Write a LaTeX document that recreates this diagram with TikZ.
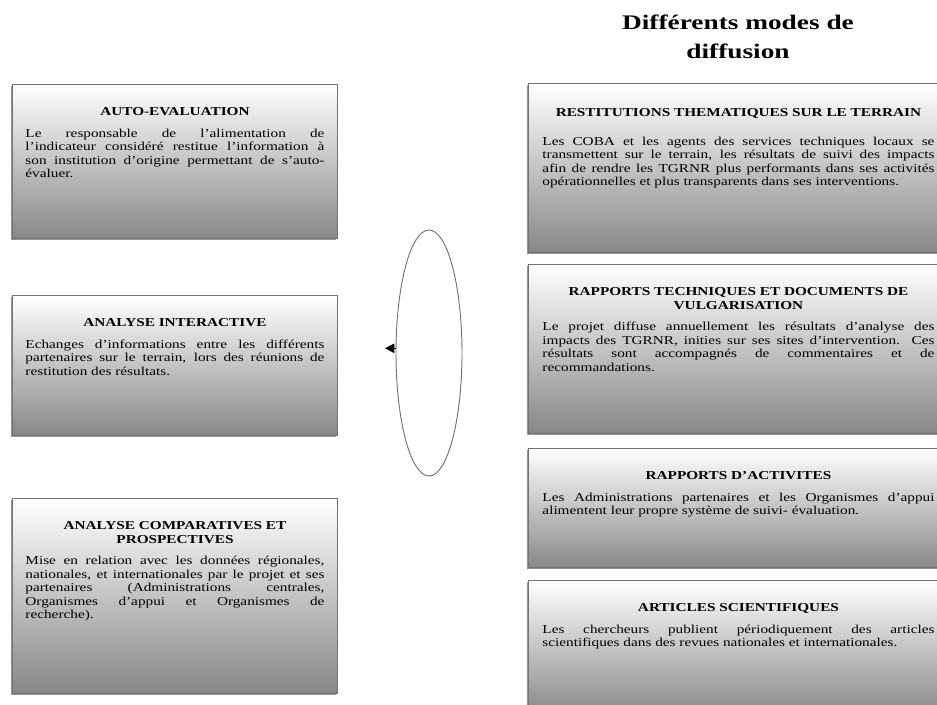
\documentclass[tikz,border=0pt]{standalone}
\usepackage{fontspec}
\setmainfont{Liberation Serif}
\newfontfamily\modefont[FakeStretch=1.26]{Liberation Serif}
\newfontfamily\headfont[FakeStretch=1.32]{Liberation Serif}
\usetikzlibrary{positioning, shapes.geometric, arrows.meta, shadows}

\newlength\pix
\setlength\pix{0.85pt}
\newcommand{\modetitle}[1]{{\centering\bfseries #1\par}\vspace{7pt}}

\tikzset{
  modebox/.style={rectangle, draw=black!55, line width=0.8pt, inner sep=0pt, anchor=north west,
    top color=white, bottom color=black!47,
    drop shadow={shadow xshift=-1.2pt, shadow yshift=-1.5pt, fill=black!70, opacity=0.6}},
  modetext/.style={anchor=north, inner sep=0pt, align=justify,
    font=\modefont\fontsize{10.3}{11.4}\selectfont},
}

\begin{document}
\begin{tikzpicture}[x=0.85pt, y=-0.85pt]
  \useasboundingbox (0,0) rectangle (937,704);
  \clip (0,0) rectangle (937,704);

  % Heading
  \node[font=\headfont\bfseries\fontsize{17.6}{24.7}\selectfont, align=center] (heading) at (738,37)
    {Différents modes de\\diffusion};

  % Boxes
  \foreach \name/\x/\y/\w/\h in {autoeval/12/84/325/154, interactive/12/295/325/140,
      comparative/12/498/325/195, restitution/528/83/420/169, techreport/528/264/420/169,
      activity/528/448/420/119, articles/528/580/420/135}
    \node[modebox, minimum width=\w*\pix, minimum height=\h*\pix] (\name) at (\x,\y) {};

  % Left texts
  \node[modetext, text width=299*\pix, below=20pt of autoeval.north] (autoevaltxt) {%
    \modetitle{AUTO-EVALUATION}
    Le responsable de l’alimentation de\linebreak
    l’indicateur considéré restitue l’information à\linebreak
    son institution d’origine permettant de s’auto-\linebreak
    évaluer.};
  \node[modetext, text width=299*\pix, below=20pt of interactive.north] (interactivetxt) {%
    \modetitle{ANALYSE INTERACTIVE}
    Echanges d’informations entre les différents\linebreak
    partenaires sur le terrain, lors des réunions de\linebreak
    restitution des résultats.};
  \node[modetext, text width=299*\pix, below=20pt of comparative.north] (comparativetxt) {%
    \modetitle{ANALYSE COMPARATIVES ET\\PROSPECTIVES}
    Mise en relation avec les données régionales,\linebreak
    nationales, et internationales par le projet et ses\linebreak
    partenaires (Administrations centrales,\linebreak
    Organismes d’appui et Organismes de\linebreak
    recherche).};

  % Right texts
  \node[modetext, text width=392*\pix, below=21.6pt of restitution.north] (restitutiontxt) {%
    \modetitle{RESTITUTIONS THEMATIQUES SUR LE TERRAIN}\vspace{6pt}
    Les COBA et les agents des services techniques locaux se\linebreak
    transmettent sur le terrain, les résultats de suivi des impacts\linebreak
    afin de rendre les TGRNR plus performants dans ses activités\linebreak
    opérationnelles et plus transparents dans ses interventions.};
  \node[modetext, text width=392*\pix, below=20pt of techreport.north] (techreporttxt) {%
    \modetitle{RAPPORTS TECHNIQUES ET DOCUMENTS DE\\VULGARISATION}
    Le projet diffuse annuellement les résultats d’analyse des\linebreak
    impacts des TGRNR, inities sur ses sites d’intervention. Ces\linebreak
    résultats sont accompagnés de commentaires et de\linebreak
    recommandations.};
  \node[modetext, text width=392*\pix, below=20pt of activity.north] (activitytxt) {%
    \modetitle{RAPPORTS D’ACTIVITES}
    Les Administrations partenaires et les Organismes d’appui\linebreak
    alimentent leur propre système de suivi- évaluation.};
  \node[modetext, text width=392*\pix, below=20pt of articles.north] (articlestxt) {%
    \modetitle{ARTICLES SCIENTIFIQUES}
    Les chercheurs publient périodiquement des articles\linebreak
    scientifiques dans des revues nationales et internationales.};

  % Cycle
  \node[ellipse, draw=black!55, line width=0.8pt, inner sep=0pt,
    minimum width=66*\pix, minimum height=246*\pix] (circuit) at (429,353) {};
  \coordinate (circuitend) at ([xshift=-9pt, yshift=4pt]circuit.west);
  \draw[-{Triangle[length=8pt, width=8pt]}, line width=0.8pt] ([yshift=4pt]circuit.west) -- (circuitend);
\end{tikzpicture}
\end{document}
